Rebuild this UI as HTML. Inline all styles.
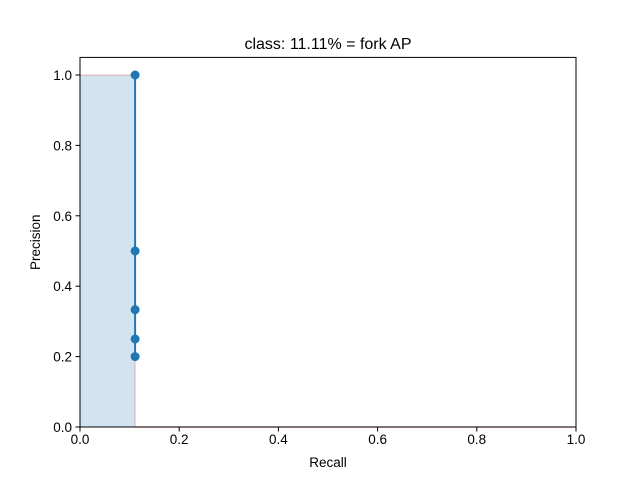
<!DOCTYPE html>
<html><head><meta charset="utf-8"><style>body{margin:0;background:#fff}svg{display:block;font-family:"Liberation Sans","DejaVu Sans",sans-serif}</style></head>
<body>
<svg id="c" width="640" height="480">
<rect width="640" height="480" fill="#fff"/>
<g id="g"></g>
</svg>
<script>
const recall=[0.1111,0.1111,0.1111,0.1111,0.1111];
const precision=[1.0,0.5,0.3333,0.25,0.2];
const stepRecall=[0,0.1111,0.1111,1.0];
const stepPrecision=[1.0,1.0,0.0,0.0];
const xTicks=[0,0.2,0.4,0.6,0.8,1.0];
const yTicks=[0,0.2,0.4,0.6,0.8,1.0];
const X0=80,X1=576,Y0=427,Y1=57.4;
const sx=v=>X0+v/1.0*(X1-X0);
const sy=v=>Y0-v/1.05*(Y0-Y1);
const g=document.getElementById('g');
const NS='http://www.w3.org/2000/svg';
function mk(t,a){const e=document.createElementNS(NS,t);for(const k in a)e.setAttribute(k,a[k]);g.appendChild(e);return e;}
// fill
let d='M'+sx(stepRecall[0])+','+sy(0);
for(let i=0;i<stepRecall.length;i++)d+=' L'+sx(stepRecall[i])+','+sy(stepPrecision[i]);
d+=' L'+sx(stepRecall[stepRecall.length-1])+','+sy(0)+' Z';
let e=mk('path',{d:d,fill:'#1f77b4','fill-opacity':0.2,stroke:'none'});


e=mk('polyline',{points:stepRecall.map((r,i)=>sx(r)+','+sy(stepPrecision[i])).join(' '),fill:'none',stroke:'#ff0000','stroke-opacity':0.2,'stroke-width':1.5});


e=mk('polyline',{points:recall.map((r,i)=>sx(r)+','+sy(precision[i])).join(' '),fill:'none',stroke:'#1f77b4','stroke-width':2});


recall.forEach((r,i)=>{const c=mk('circle',{cx:sx(r),cy:sy(precision[i]),r:4.5,fill:'#1f77b4'});

});
e=mk('rect',{x:X0,y:Y1,width:X1-X0,height:Y0-Y1,fill:'none',stroke:'#000','stroke-width':1});


xTicks.forEach(v=>{const x=sx(v);mk('line',{x1:x,x2:x,y1:Y0,y2:Y0+4.5,stroke:'#000'});
const t=mk('text',{x:x,y:Y0+17,'text-anchor':'middle','font-size':13.5});t.textContent=v.toFixed(1);

});
yTicks.forEach(v=>{const y=sy(v);mk('line',{x1:X0,x2:X0-4.5,y1:y,y2:y,stroke:'#000'});
const t=mk('text',{x:X0-8,y:y+5,'text-anchor':'end','font-size':13.5});t.textContent=v.toFixed(1);

});
e=mk('text',{x:(X0+X1)/2,y:467,'text-anchor':'middle','font-size':13.5});e.textContent='Recall';


e=mk('text',{x:0,y:0,'text-anchor':'middle','font-size':13.5,transform:'translate(40,'+((Y0+Y1)/2)+') rotate(-90)'});e.textContent='Precision';


e=mk('text',{x:(X0+X1)/2,y:49,'text-anchor':'middle','font-size':16});e.textContent='class: 11.11% = fork AP';


</script>
</body></html>
